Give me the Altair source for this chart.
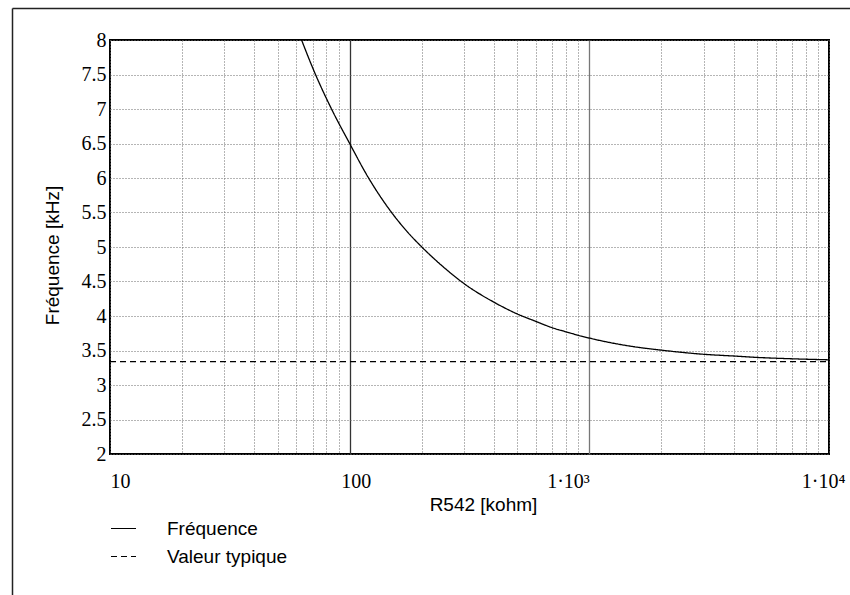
import altair as alt
import pandas as pd

# ---- data ----
R_kohm = [63, 71, 84, 100, 119, 146, 175, 200, 250, 300, 400, 500, 600, 700,
          800, 900, 1000, 1500, 2000, 3000, 4000, 5000, 7000, 10000]
freq_khz = [8.0, 7.55, 7.0, 6.5, 6.02, 5.55, 5.21, 5.0, 4.69, 4.47, 4.2, 4.03, 3.92,
            3.83, 3.77, 3.72, 3.68, 3.56, 3.505, 3.445, 3.42, 3.40, 3.38, 3.365]
typ_R = [10, 10000]
typ_f = [3.34, 3.34]
series_names = ["Fréquence", "Valeur typique"]

x_grid_values = [10, 20, 30, 40, 50, 60, 70, 80, 90,
                 100, 200, 300, 400, 500, 600, 700, 800, 900,
                 1000, 2000, 3000, 4000, 5000, 6000, 7000, 8000, 9000, 10000]
y_tick_values = [2, 2.5, 3, 3.5, 4, 4.5, 5, 5.5, 6, 6.5, 7, 7.5, 8]

df = pd.concat([
    pd.DataFrame({"R": R_kohm, "f": freq_khz, "serie": series_names[0]}),
    pd.DataFrame({"R": typ_R, "f": typ_f, "serie": series_names[1]}),
], ignore_index=True)

SERIF = "Liberation Serif"
SANS = "Liberation Sans"

x_label_expr = ("datum.value==10?'10':datum.value==100?'100':"
                "datum.value==1000?'1·10³':datum.value==10000?'1·10⁴':''")

x_axis = alt.Axis(
    values=x_grid_values, grid=True, ticks=False, domain=False,
    labelExpr=x_label_expr, labelFont=SERIF, labelFontSize=20, labelColor="black",
    labelPadding=17, labelOverlap=False, labelFlush=False,
    labelAlign={"condition": {"test": "datum.value <= 100", "value": "left"}, "value": "right"},
    labelOffset={"condition": [{"test": "datum.value == 100", "value": -9},
                               {"test": "datum.value == 10000", "value": 16}], "value": 0},
    gridColor={"condition": [{"test": "datum.value == 100", "value": "#333333"},
                             {"test": "datum.value == 1000", "value": "#777777"}],
               "value": "#6a6a6a"},
    gridDash={"condition": {"test": "datum.value == 100 || datum.value == 1000", "value": []},
              "value": [1, 2]},
    gridWidth={"condition": {"test": "datum.value == 100 || datum.value == 1000", "value": 1.3},
               "value": 1},
    title="R542  [kohm]", titleFont=SANS, titleFontSize=19, titleFontWeight="normal",
    titleColor="black", titleX=373, titleY=50, titleBaseline="middle",
)

y_axis = alt.Axis(
    values=y_tick_values, grid=True, ticks=False, domain=False,
    labelFont=SERIF, labelFontSize=20, labelColor="black", labelPadding=4,
    format="~g",
    gridColor="#6a6a6a", gridDash=[1, 2], gridWidth=1,
    title="Fréquence [kHz]", titleFont=SANS, titleFontSize=19, titleFontWeight="normal",
    titleColor="black", titleX=-58, titleY=215, titleBaseline="middle",
)

lines = alt.Chart(df).mark_line(color="black", strokeWidth=1.3, interpolate="monotone").encode(
    x=alt.X("R:Q", scale=alt.Scale(type="log", domain=[10, 10000], nice=False), axis=x_axis),
    y=alt.Y("f:Q", scale=alt.Scale(domain=[2, 8], nice=False, zero=False), axis=y_axis),
    strokeDash=alt.StrokeDash(
        "serie:N",
        scale=alt.Scale(domain=series_names, range=[[1, 0], [6, 4]]),
        legend=alt.Legend(orient="none", legendX=0, legendY=475, title=None,
                          symbolType="stroke", symbolSize=625, symbolStrokeWidth=1.2,
                          symbolStrokeColor="black", labelFont=SANS, labelFontSize=19,
                          labelColor="black", labelOffset=30, rowPadding=4, padding=0),
    ),
)

frame_df = pd.DataFrame({"k": [0]})
frame_left = alt.Chart(frame_df).mark_rule(color="#222222", strokeWidth=1.5).encode(
    x=alt.value(-97.5), y=alt.value(-31.5), y2=alt.value(560))
frame_top = alt.Chart(frame_df).mark_rule(color="#222222", strokeWidth=1.5).encode(
    x=alt.value(-97.5), x2=alt.value(745), y=alt.value(-31.5))

chart = alt.layer(lines, frame_left, frame_top).properties(
    width=719, height=414,
    autosize=alt.AutoSizeParams(type="none"),
    padding={"left": 110, "top": 40, "right": 21, "bottom": 141},
    background="white",
).configure_view(stroke="black", strokeWidth=2)

chart.save("out.html", embed_options={"renderer": "svg", "actions": False})
